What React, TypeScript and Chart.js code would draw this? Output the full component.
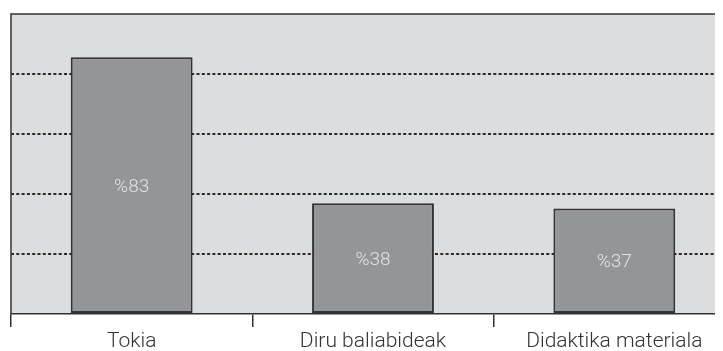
import React, { useEffect, useRef } from "react";
import { Chart, registerables } from "chart.js";

Chart.register(...registerables);

const categories = ["Tokia", "Diru baliabideak", "Didaktika materiala"];
const barValues = [85.6, 36.9, 35.2];
const barLabels = ["%83", "%38", "%37"];
const yMin = 0;
const yMax = 100;
const yStep = 20;

const FONT = "Roboto, 'Liberation Sans', Arial, sans-serif";

const frame = {
  id: "frame",
  beforeDatasetsDraw(chart: any) {
    const { ctx, chartArea: a } = chart;
    ctx.save();
    ctx.strokeStyle = "#333333";
    ctx.lineWidth = 1.5;
    ctx.beginPath();
    ctx.moveTo(a.left, a.bottom);
    ctx.lineTo(a.left, a.top);
    ctx.lineTo(a.right + 20, a.top);
    ctx.stroke();
    ctx.restore();
  },
  beforeDraw(chart: any) {
    const { ctx, chartArea: a } = chart;
    ctx.save();
    ctx.fillStyle = "#dcddde";
    ctx.fillRect(a.left, a.top, a.right - a.left, a.bottom - a.top);
    ctx.restore();
  },
  afterDatasetsDraw(chart: any) {
    const { ctx } = chart;
    const meta = chart.getDatasetMeta(0);
    ctx.save();
    ctx.fillStyle = "#e4e4e4";
    ctx.font = `300 19px ${FONT}`;
    ctx.textAlign = "center";
    ctx.textBaseline = "middle";
    meta.data.forEach((bar: any, i: number) => {
      const y = (bar.y + bar.base) / 2 + 2;
      ctx.fillText(barLabels[i], bar.x, y);
    });
    ctx.restore();
  },
};

export default function App() {
  const ref = useRef<HTMLCanvasElement>(null);
  useEffect(() => {
    if (!ref.current) return;
    const chart = new Chart(ref.current, {
      type: "bar",
      data: {
        labels: categories,
        datasets: [
          {
            data: barValues,
            backgroundColor: "#939598",
            borderColor: "#333333",
            borderWidth: 2,
            borderSkipped: false,
            categoryPercentage: 1,
            barPercentage: 0.505,
          },
        ],
      },
      options: {
        animation: false,
        responsive: false,
        layout: { padding: { left: 3, top: 6, right: 13, bottom: 0 } },
        plugins: {
          legend: { display: false },
          tooltip: { enabled: false },
          title: { display: false },
        },
        scales: {
          x: {
            offset: true,
            grid: {
              offset: true,
              drawOnChartArea: false,
              drawTicks: true,
              tickLength: 13,
              color: "#333333",
              lineWidth: 1.5,
            },
            border: { display: true, color: "#333333", width: 1.5 },
            ticks: {
              color: "#333333",
              font: { family: FONT, size: 21, weight: "300" },
              padding: 2,
              maxRotation: 0,
              autoSkip: false,
            },
            afterFit(scale: any) {
              scale.height = 37;
            },
          },
          y: {
            min: yMin,
            max: yMax,
            ticks: { display: false, stepSize: yStep },
            grid: {
              drawTicks: false,
              tickLength: 0,
              color: (c: any) =>
                c.tick && c.tick.value > yMin && c.tick.value < yMax
                  ? "#2a2a2a"
                  : "rgba(0,0,0,0)",
              lineWidth: 2,
            },
            border: { display: false, dash: [3, 2.3] },
            afterFit(scale: any) {
              scale.width = 0;
            },
          },
        },
      },
      plugins: [frame],
    });
    return () => chart.destroy();
  }, []);
  return (
    <div style={{ width: 715, height: 343, overflow: "hidden" }}>
      <canvas ref={ref} width={740} height={343} style={{ display: "block" }} />
    </div>
  );
}
